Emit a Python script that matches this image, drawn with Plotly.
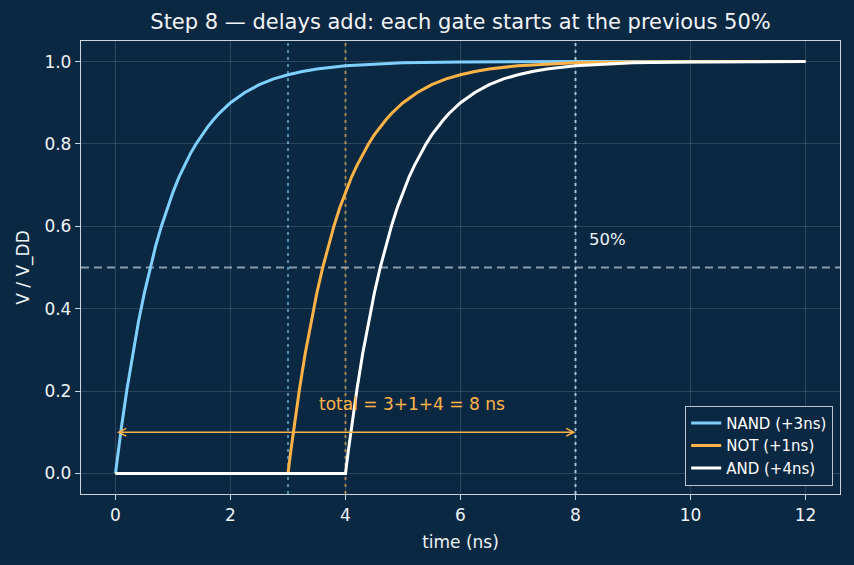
import plotly.graph_objects as go

# ---- data ----
t_nand = [0, 0.05, 0.1, 0.2, 0.3, 0.4, 0.5, 0.6, 0.7, 0.8, 0.9, 1.0, 1.1, 1.2, 1.3, 1.4, 1.5,
          1.6, 1.7, 1.8, 1.9, 2.0, 2.25, 2.5, 2.75, 3.0, 3.25, 3.5, 4.0, 4.5, 5.0, 6.0, 7.0,
          8.0, 9.0, 10.0, 11.0, 12.0]
v_nand = [0, 0.056, 0.109, 0.205, 0.292, 0.369, 0.437, 0.498, 0.553, 0.601, 0.645, 0.683, 0.718,
          0.748, 0.776, 0.800, 0.822, 0.841, 0.858, 0.874, 0.887, 0.900, 0.925, 0.944, 0.958,
          0.968, 0.976, 0.982, 0.990, 0.994, 0.997, 0.999, 1.0, 1.0, 1.0, 1.0, 1.0, 1.0]

t_not = [0, 3.0, 3.05, 3.1, 3.2, 3.3, 3.4, 3.5, 3.6, 3.7, 3.8, 3.9, 4.0, 4.1, 4.2, 4.3, 4.4, 4.5,
         4.6, 4.7, 4.8, 4.9, 5.0, 5.25, 5.5, 5.75, 6.0, 6.25, 6.5, 7.0, 7.5, 8.0, 9.0, 10.0,
         11.0, 12.0]
v_not = [0, 0, 0.056, 0.109, 0.205, 0.292, 0.369, 0.437, 0.498, 0.553, 0.601, 0.645, 0.683, 0.718,
         0.748, 0.776, 0.800, 0.822, 0.841, 0.858, 0.874, 0.887, 0.900, 0.925, 0.944, 0.958,
         0.968, 0.976, 0.982, 0.990, 0.994, 0.997, 0.999, 1.0, 1.0, 1.0]

t_and = [0, 4.0, 4.05, 4.1, 4.2, 4.3, 4.4, 4.5, 4.6, 4.7, 4.8, 4.9, 5.0, 5.1, 5.2, 5.3, 5.4, 5.5,
         5.6, 5.7, 5.8, 5.9, 6.0, 6.25, 6.5, 6.75, 7.0, 7.25, 7.5, 8.0, 8.5, 9.0, 10.0, 11.0,
         12.0]
v_and = [0, 0, 0.056, 0.109, 0.205, 0.292, 0.369, 0.437, 0.498, 0.553, 0.601, 0.645, 0.683, 0.718,
         0.748, 0.776, 0.800, 0.822, 0.841, 0.858, 0.874, 0.887, 0.900, 0.925, 0.944, 0.958,
         0.968, 0.976, 0.982, 0.990, 0.994, 0.997, 0.999, 1.0, 1.0]

series_names = ["NAND (+3ns)", "NOT (+1ns)", "AND (+4ns)"]
gate_delays = [3, 1, 4]                 # ns
marker_times = [3, 4, 8]                # cumulative 50% points
threshold = 0.5
arrow_level = 0.1
x_ticks = [0, 2, 4, 6, 8, 10, 12]
y_ticks = [0.0, 0.2, 0.4, 0.6, 0.8, 1.0]

# ---- style ----
BG = "#0b2842"
FG = "#eef3f7"
SPINE = "#c9d6e2"
C_NAND = "#7fd0ff"
C_NOT = "#ffb347"
C_AND = "#ffffff"
FONT = "DejaVu Sans"

fig = go.Figure()

for t, v, name, col in [(t_nand, v_nand, series_names[0], C_NAND),
                        (t_not, v_not, series_names[1], C_NOT),
                        (t_and, v_and, series_names[2], C_AND)]:
    fig.add_trace(go.Scatter(x=t, y=v, mode="lines", name=name,
                             line=dict(color=col, width=3)))

# threshold line
fig.add_hline(y=threshold, line=dict(color="rgba(185,200,212,0.72)", width=2, dash="8px,5px"),
              layer="below")

# vertical markers
vcols = ["rgba(127,208,255,0.6)", "rgba(255,179,71,0.6)", "rgba(175,215,240,0.85)"]
for xt, c in zip(marker_times, vcols):
    fig.add_vline(x=xt, line=dict(color=c, width=2, dash="3px,4px"), layer="below")

total = sum(gate_delays)
# double-headed arrow
fig.add_annotation(x=total, y=arrow_level, ax=0, ay=arrow_level, xref="x", yref="y",
                   axref="x", ayref="y", text="", showarrow=True,
                   arrowhead=5, startarrowhead=5, arrowside="end+start",
                   arrowsize=1, startarrowsize=1, arrowwidth=1.5, arrowcolor=C_NOT,
                   standoff=0, startstandoff=0)
fig.add_annotation(x=3.5, y=0.14, xref="x", yref="y", xanchor="left", yanchor="bottom",
                   text="total = %d+%d+%d = %d ns" % (gate_delays[0], gate_delays[1], gate_delays[2], total),
                   showarrow=False, font=dict(color=C_NOT, size=17, family=FONT))
fig.add_annotation(x=8.2, y=0.54, xref="x", yref="y", xanchor="left", yanchor="bottom",
                   text="50%", showarrow=False, font=dict(color=FG, size=16.5, family=FONT))

axis_common = dict(showline=True, mirror=True, linecolor=SPINE, linewidth=1.3,
                   ticks="outside", ticklen=5, tickwidth=1.3, tickcolor=SPINE,
                   gridcolor="rgba(255,255,255,0.14)", gridwidth=1, zeroline=False,
                   tickfont=dict(color=FG, size=17, family=FONT),
                   title_font=dict(color=FG, size=17, family=FONT))

fig.update_xaxes(range=[-0.6, 12.6], tickvals=x_ticks, title_text="time (ns)",
                 title_standoff=12, **axis_common)
fig.update_yaxes(range=[-0.05, 1.05], tickvals=y_ticks, tickformat=".1f",
                 title_text="V / V_DD", title_standoff=10, **axis_common)

fig.update_layout(
    width=854, height=565,
    paper_bgcolor=BG, plot_bgcolor=BG,
    margin=dict(l=81, r=14, t=41, b=71),
    font=dict(family=FONT, color=FG),
    title=dict(text="Step 8 — delays add: each gate starts at the previous 50%",
               x=0.5 + (81 - 14) / 2 / 854, xanchor="center", y=1 - 22 / 565, yanchor="middle",
               yref="container", font=dict(size=21, color="#f2f4f7", family=FONT)),
    legend=dict(x=0.991, y=0.018, xanchor="right", yanchor="bottom",
                bgcolor=BG, bordercolor="#b9c4cf", borderwidth=1,
                font=dict(size=15, color="#ffffff", family=FONT), itemwidth=30,
                tracegroupgap=0),
    showlegend=True,
)

fig.write_html("out.html")
